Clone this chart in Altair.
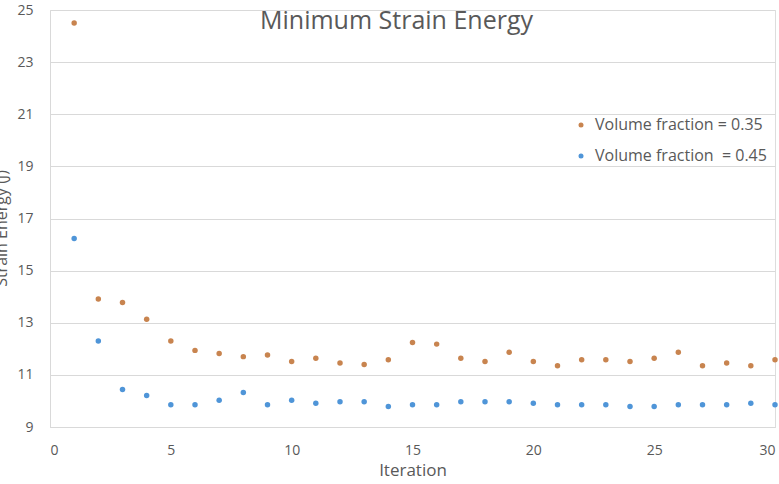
import altair as alt
import pandas as pd

iterations = list(range(1, 31))
vf_035 = [24.50, 13.91, 13.78, 13.13, 12.30, 11.94, 11.82, 11.70, 11.76, 11.51,
          11.64, 11.46, 11.40, 11.58, 12.24, 12.18, 11.64, 11.51, 11.87, 11.51,
          11.35, 11.58, 11.58, 11.51, 11.64, 11.87, 11.35, 11.46, 11.35, 11.58]
vf_045 = [16.23, 12.30, 10.44, 10.21, 9.85, 9.85, 10.03, 10.32, 9.85, 10.03,
          9.91, 9.97, 9.97, 9.79, 9.85, 9.85, 9.97, 9.97, 9.97, 9.91,
          9.85, 9.85, 9.85, 9.79, 9.79, 9.85, 9.85, 9.85, 9.91, 9.85]
series_names = ["Volume fraction = 0.35", "Volume fraction\u00a0 = 0.45"]
series_colors = ["#C8844F", "#4F95D8"]

df = pd.concat([
    pd.DataFrame({"Iteration": iterations, "Energy": vf_035, "Series": series_names[0]}),
    pd.DataFrame({"Iteration": iterations, "Energy": vf_045, "Series": series_names[1]}),
])

FONT = "Open Sans"
GRAY = "#595959"

chart = alt.Chart(df).mark_point(filled=True, size=30, opacity=1).encode(
    x=alt.X("Iteration:Q",
            scale=alt.Scale(domain=[0, 30], nice=False, zero=False),
            axis=alt.Axis(values=[0, 5, 10, 15, 20, 25, 30], grid=False, ticks=False,
                          domainColor="#D9D9D9", labelPadding=16, labelFontSize=14,
                          labelColor=GRAY, labelFont=FONT, title="Iteration",
                          titleFont=FONT, titleFontSize=17, titleColor=GRAY,
                          titleFontWeight="normal", titlePadding=5)),
    y=alt.Y("Energy:Q",
            scale=alt.Scale(domain=[9, 25], nice=False, zero=False),
            axis=alt.Axis(values=[9, 11, 13, 15, 17, 19, 21, 23, 25], grid=True,
                          gridColor="#D9D9D9", ticks=False, domainColor="#D9D9D9",
                          labelPadding=17, labelFontSize=14, labelColor=GRAY,
                          labelFont=FONT, title="Strain Energy (J)", titleFont=FONT,
                          titleFontSize=16, titleColor=GRAY, titleFontWeight="normal",
                          titleX=-41, titleY=218)),
    color=alt.Color("Series:N",
                    scale=alt.Scale(domain=series_names, range=series_colors),
                    legend=alt.Legend(orient="none", legendX=523, legendY=107,
                                      title=None, symbolSize=25, symbolType="circle",
                                      labelFont=FONT, labelFontSize=16, labelColor=GRAY,
                                      labelLimit=400, rowPadding=15, labelOffset=6,
                                      padding=0)),
).properties(
    width=725,
    height=417,
    title=alt.TitleParams("Minimum Strain Energy", font=FONT, fontSize=25,
                          color=GRAY, fontWeight="normal", offset=-31, dx=-16,
                          anchor="middle"),
    autosize=alt.AutoSizeParams(type="none"),
    padding={"left": 50, "top": 10, "right": 4, "bottom": 57},
).configure_view(stroke=None).configure(background="white")

chart.save("out.html", embed_options={"renderer": "svg", "actions": False})
